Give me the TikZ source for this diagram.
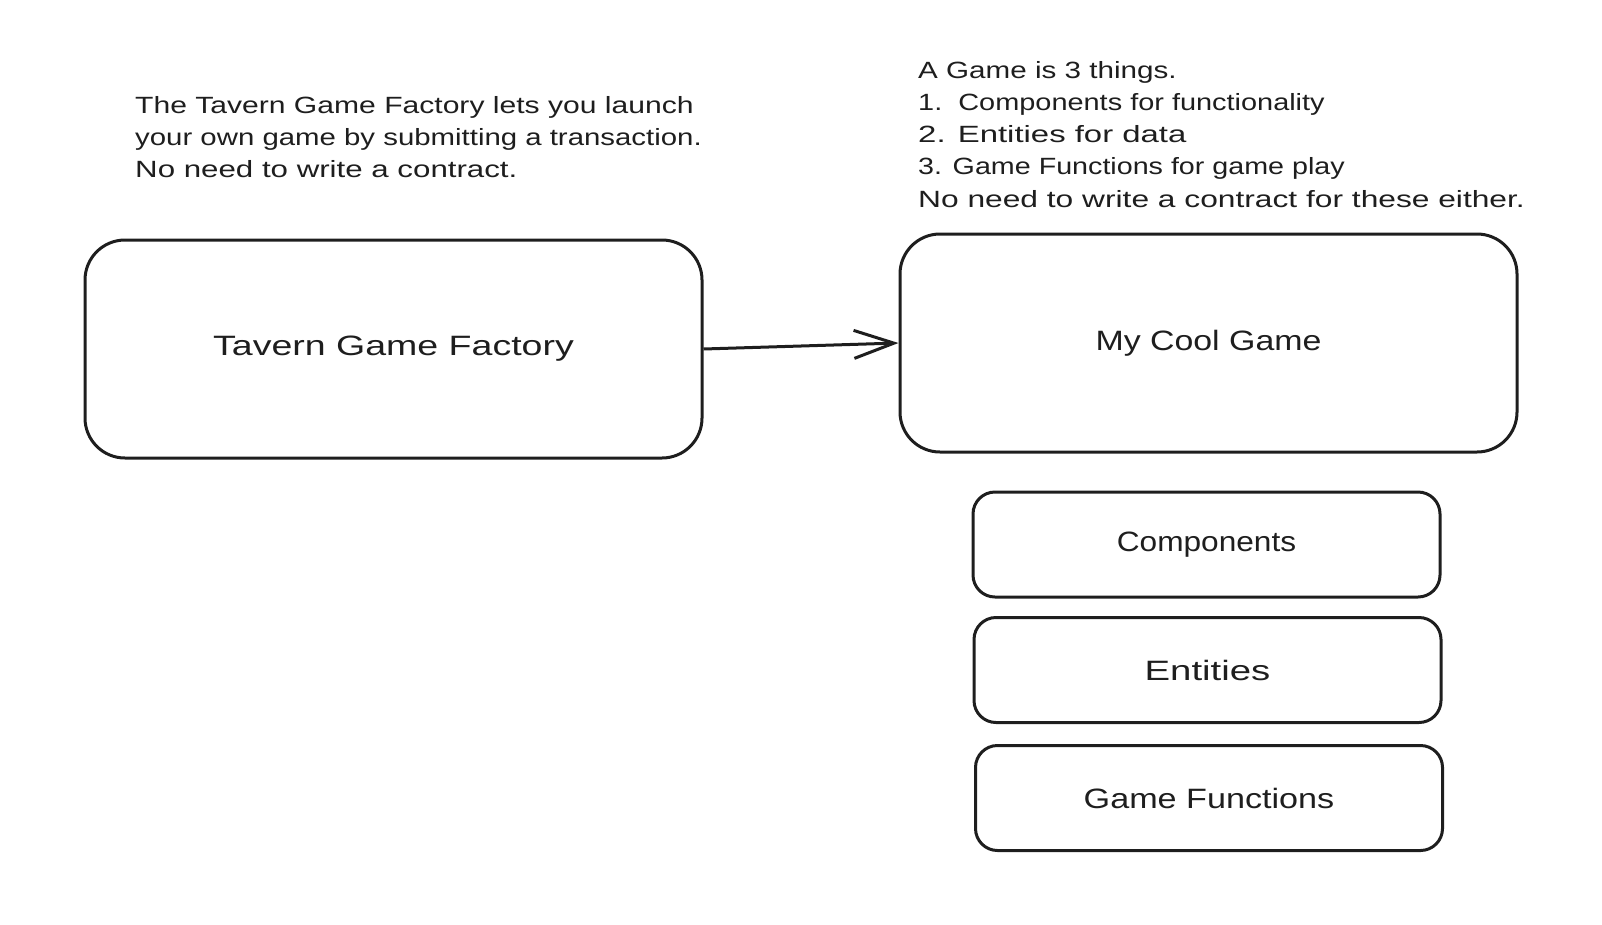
\documentclass[tikz,border=0pt]{standalone}
\usepackage{fontspec}
\setmainfont{Liberation Sans}
\usetikzlibrary{arrows.meta}
\definecolor{ink}{HTML}{1E1E1E}
\newcommand\stretchtxt[2]{{\addfontfeatures{FakeStretch=#1}#2}}
\tikzset{
  bigbox/.style={draw=ink, line width=3pt, rounded corners=40pt, minimum width=617pt, minimum height=218pt, inner sep=0pt, font=\fontsize{28}{32}\selectfont, text=ink},
  smallbox/.style={draw=ink, line width=3pt, rounded corners=22pt, minimum width=467pt, minimum height=105pt, inner sep=0pt, font=\fontsize{28}{32}\selectfont, text=ink},
  note/.style={anchor=base west, inner sep=0pt, font=\fontsize{23.5}{32}\selectfont, text=ink},
  link/.style={draw=ink, line width=3pt, -{Straight Barb[length=40pt,width=28pt,line width=3pt]}}
}
\begin{document}
\begin{tikzpicture}[x=1pt,y=-1pt]
\useasboundingbox (0,0) rectangle (1602,924);
\node[bigbox] (factory) at (393.5,349) {\stretchtxt{1.34}{Tavern Game Factory}};
\node[bigbox] (game) at (1208.5,343) {\stretchtxt{1.21}{My Cool Game}};
\node[smallbox] (comp) at (1206.5,544.5) {\stretchtxt{1.13}{Components}};
\node[smallbox] (ent) at (1207.5,670) {\stretchtxt{1.37}{Entities}};
\node[smallbox] (func) at (1209,798) {\stretchtxt{1.22}{Game Functions}};
\draw[link] (factory.east) -- (game.west);
\node[note] (intro) at (135,113) {\vtop{\baselineskip=32pt
  \hbox{\stretchtxt{1.28}{The Tavern Game Factory lets you launch}}
  \hbox{\stretchtxt{1.25}{your own game by submitting a transaction.}}
  \hbox{\stretchtxt{1.33}{No need to write a contract.}}}};
\node[note] (things) at (918,78) {\vtop{\baselineskip=32.3pt
  \hbox{\stretchtxt{1.26}{A Game is 3 things.}}
  \hbox{\stretchtxt{1.23}{1.\ \ Components for functionality}}
  \hbox{\stretchtxt{1.40}{2. Entities for data}}
  \hbox{\stretchtxt{1.22}{3. Game Functions for game play}}
  \hbox{\stretchtxt{1.35}{No need to write a contract for these either.}}}};
\end{tikzpicture}
\end{document}
